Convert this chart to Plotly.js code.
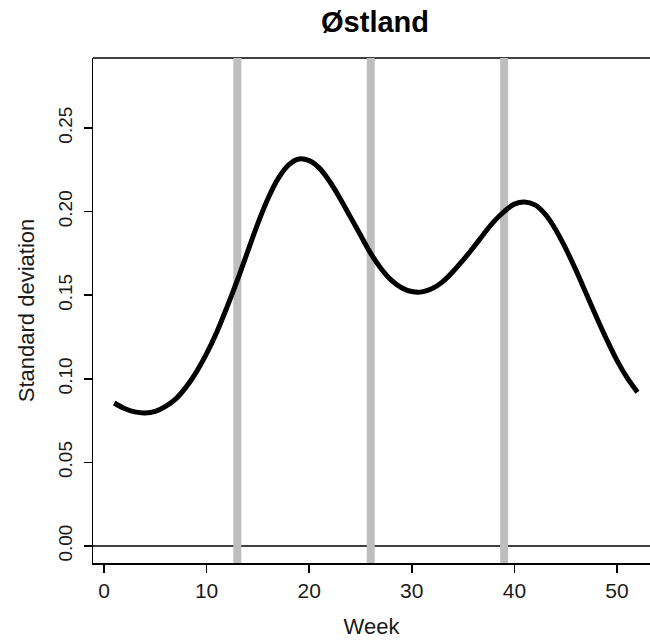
<!DOCTYPE html>
<html>
<head>
<meta charset="utf-8">
<script src="https://cdn.plot.ly/plotly-3.0.1.min.js"></script>
<style>html,body{margin:0;padding:0;background:#fff;}#chart{width:650px;height:641px;}</style>
</head>
<body>
<div id="chart"></div>
<script>
const weeks = [1,2,3,4,5,6,7,8,9,10,11,12,13,14,15,16,17,18,19,20,21,22,23,24,25,26,27,28,29,30,31,32,33,34,35,36,37,38,39,40,41,42,43,44,45,46,47,48,49,50,51,52];
const stdDev = [0.0855,0.0822,0.0802,0.0796,0.0805,0.0835,0.0880,0.0950,0.1040,0.1150,0.1280,0.1430,0.1590,0.1760,0.1930,0.2080,0.2200,0.2280,0.2315,0.2305,0.2260,0.2180,0.2080,0.1970,0.1860,0.1750,0.1660,0.1590,0.1545,0.1522,0.1520,0.1540,0.1580,0.1640,0.1710,0.1785,0.1865,0.1940,0.2000,0.2045,0.2058,0.2040,0.1985,0.1895,0.1780,0.1650,0.1510,0.1370,0.1235,0.1110,0.1005,0.0920];
const quarterWeeks = [13, 26, 39];
const xTicks = [0, 10, 20, 30, 40, 50];
const yTicks = [0, 0.05, 0.10, 0.15, 0.20, 0.25];
const titleText = "Østland";
const xTitle = "Week";
const yTitle = "Standard deviation";

const font = "Liberation Sans, Arial, sans-serif";
const txtColor = '#1a1a1a';
const shapes = [];
shapes.push({type:'line', xref:'x domain', yref:'y domain', x0:0, x1:1, y0:1, y1:1, line:{color:'#000', width:1.5}, layer:'below'});
shapes.push({type:'line', xref:'x domain', yref:'y', x0:0, x1:1, y0:0, y1:0, line:{color:'#000', width:1.5}, layer:'below'});
quarterWeeks.forEach(w => shapes.push({type:'line', xref:'x', yref:'y domain', x0:w, x1:w, y0:0, y1:1, line:{color:'#BEBEBE', width:8}, layer:'below'}));

const trace = {x: weeks, y: stdDev, type:'scatter', mode:'lines', line:{color:'#000', width:5, shape:'spline', smoothing:1}, hoverinfo:'skip'};

const layout = {
  width: 650, height: 641,
  margin: {l:93, r:0, t:58, b:78},
  paper_bgcolor:'#fff', plot_bgcolor:'rgba(0,0,0,0)',
  showlegend:false,
  title: {text: '<b>' + titleText + '</b>', font:{family:font, size:29, color:'#000'}, x:0.577, xanchor:'center', y:0.966, yanchor:'middle'},
  xaxis: {range:[-1.07, 53.22], tickvals:xTicks, ticktext:xTicks.map(String), showgrid:false, zeroline:false,
          showline:true, linecolor:'#000', linewidth:1.5, ticks:'outside', ticklen:8, tickwidth:1.5, tickcolor:'#000',
          ticklabelstandoff:0,
          tickfont:{family:font, size:21, color:txtColor},
          title:{text:xTitle, font:{family:font, size:22, color:txtColor}, standoff:18}},
  yaxis: {range:[-0.0102, 0.2919], tickvals:yTicks, ticktext:yTicks.map(v=>v.toFixed(2)), showgrid:false, zeroline:false,
          showline:true, linecolor:'#000', linewidth:1.5, ticks:'outside', ticklen:8, tickwidth:1.5, tickcolor:'#000',
          tickangle:-90, ticklabelstandoff:4, tickfont:{family:font, size:19, color:txtColor},
          title:{text:yTitle, font:{family:font, size:22, color:txtColor}, standoff:14}},
  shapes: shapes
};
Plotly.newPlot('chart', [trace], layout, {displayModeBar:false, staticPlot:true});
</script>
</body>
</html>
